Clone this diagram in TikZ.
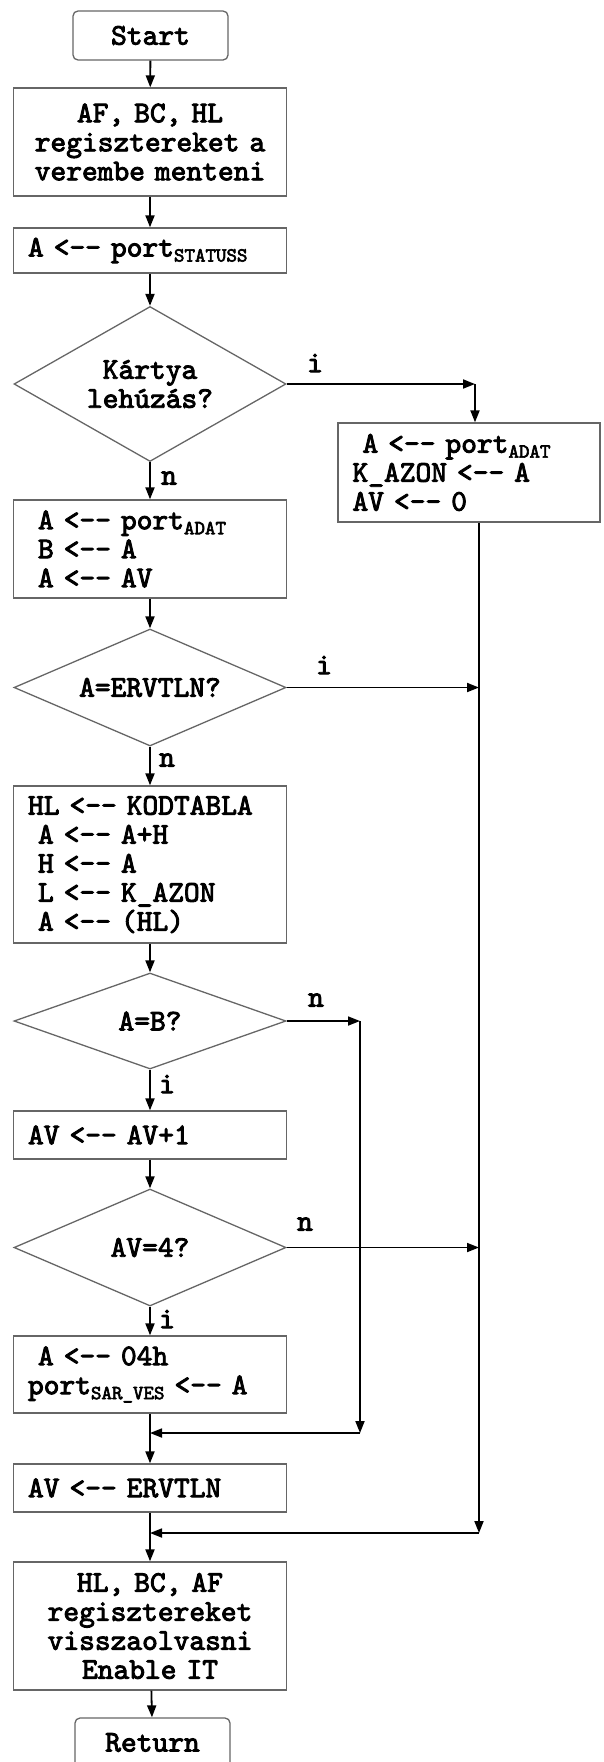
\documentclass[tikz,border=0pt]{standalone}
\usepackage{fontspec}
\setmonofont{lmmono10-regular.otf}[AutoFakeBold=3]
\usetikzlibrary{shapes.geometric,arrows.meta}

\newcommand{\portsub}[1]{\raisebox{-5pt}{\fontsize{20}{20}\selectfont #1}}

\tikzset{
	code/.style={font=\ttfamily\bfseries\fontsize{30}{29}\selectfont},
	box/.style={code, draw=black!60, line width=1.3pt, rectangle, text width=244pt, inner xsep=14.5pt, inner ysep=3pt, align=left},
	cbox/.style={box, align=center},
	term/.style={code, draw=black!60, line width=1.3pt, rounded corners=5pt, minimum width=155pt, minimum height=49pt},
	decide/.style={code, draw=black!60, line width=1.3pt, diamond, aspect=1.75, inner sep=0pt, minimum width=272pt, align=center},
	flow/.style={line width=1.8pt, -{Triangle[length=12pt,width=9pt]}},
	lbl/.style={code}
}

\begin{document}
\begin{tikzpicture}[x=1pt,y=-1pt]
		\useasboundingbox (0,0) rectangle (603,1762);

		\node[term] (start) at (150.5,35.5) {Start};
		\node[cbox, minimum height=108pt] (push) at (150,142) {AF, BC, HL\\regisztereket a\\verembe menteni};
		\node[box, minimum height=45pt] (status) at (150,250.5) {A <-- port\portsub{STATUSS}};
		\node[decide, minimum height=155pt] (card) at (150,384) {Kártya\\lehúzás?};
		\node[box, text width=233pt, minimum height=99pt] (read) at (469,472.5) {~A <-- port\portsub{ADAT}\\K\_AZON <-- A\\AV <-- 0};
		\node[box, minimum height=98pt] (load) at (150,549) {~A <-- port\portsub{ADAT}\\~B <-- A\\~A <-- AV};
		\node[decide, minimum height=117pt] (valid) at (150,687.5) {A=ERVTLN?};
		\node[box, minimum height=157pt] (lookup) at (150,864.5) {HL <-- KODTABLA\\~A <-- A+H\\~H <-- A\\~L <-- K\_AZON\\~A <-- (HL)};
		\node[decide, minimum height=96pt] (cmp) at (150,1021) {A=B?};
		\node[box, minimum height=48pt] (inc) at (150,1135) {AV <-- AV+1};
		\node[decide, minimum height=117pt] (four) at (150,1247.5) {AV=4?};
		\node[box, minimum height=77pt] (lock) at (150,1374.5) {~A <-- 04h\\port\portsub{SAR\_VES}~<-- A};
		\node[box, minimum height=48pt] (reset) at (150,1488) {AV <-- ERVTLN};
		\node[cbox, minimum height=128pt] (pop) at (150,1626) {HL, BC, AF\\regisztereket\\visszaolvasni\\Enable IT};
		\node[term] (ret) at (152.5,1742.5) {Return};

		\coordinate (c1) at (475,384);
		\coordinate (c3) at (360,1021);
		\coordinate (j1) at (360,1433);
		\coordinate (j2) at (479,1533);

		\draw[flow] (start) -- (push);
		\draw[flow] (push) -- (status);
		\draw[flow] (status) -- (card);
		\draw[flow] (card) -- (load);
		\draw[flow] (load) -- (valid);
		\draw[flow] (valid) -- (lookup);
		\draw[flow] (lookup) -- (cmp);
		\draw[flow] (cmp) -- (inc);
		\draw[flow] (inc) -- (four);
		\draw[flow] (four) -- (lock);
		\draw[flow] (lock) -- (reset);
		\draw[flow] (reset) -- (pop);
		\draw[flow] (pop) -- (ret);

		\draw[flow] (card.east) -- (c1);
		\draw[flow] (c1) -- (c1 |- read.north);
		\draw[flow] (valid.east) -- (valid.east -| j2);
		\draw[flow] (four.east) -- (four.east -| j2);
		\draw[flow] (read.south -| j2) -- (j2);
		\draw[flow] (j2) -- (j2 -| pop.north);

		\draw[flow] (cmp.east) -- (c3);
		\draw[flow] (c3) -- (j1);
		\draw[flow] (j1) -- (j1 -| lock.south);

		\node[lbl] (i1) at (315,363) {i};
		\node[lbl] (n1) at (169,478) {n};
		\node[lbl] (i2) at (324,665) {i};
		\node[lbl] (n2) at (167,760) {n};
		\node[lbl] (n3) at (316,1000) {n};
		\node[lbl] (i3) at (167,1084) {i};
		\node[lbl] (n4) at (305,1224) {n};
		\node[lbl] (i4) at (167,1319) {i};

	\end{tikzpicture}
\end{document}
